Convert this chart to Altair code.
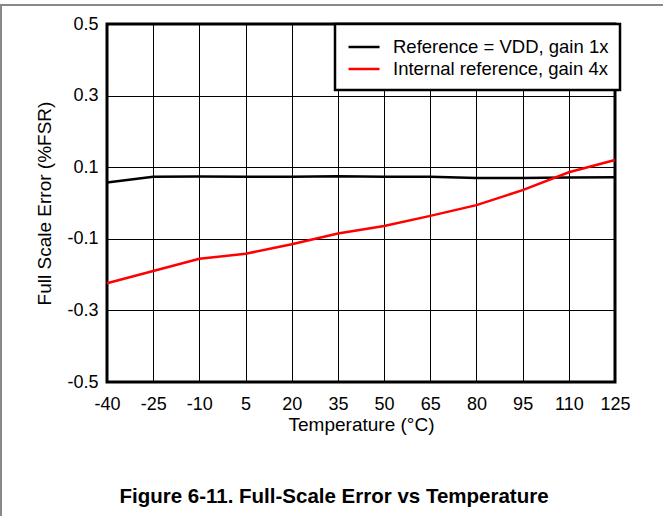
import altair as alt
import pandas as pd

temps = [-40, -25, -10, 5, 20, 35, 50, 65, 80, 95, 110, 125]
vdd_gain1 = [0.057, 0.073, 0.074, 0.073, 0.073, 0.075, 0.073, 0.073, 0.070, 0.070, 0.071, 0.072]
int_gain4 = [-0.224, -0.190, -0.156, -0.142, -0.115, -0.085, -0.064, -0.036, -0.006, 0.036, 0.086, 0.120]
series_names = ["Reference = VDD, gain 1x", "Internal reference, gain 4x"]
series_colors = ["#000000", "#ff0000"]
x_ticks = [-40, -25, -10, 5, 20, 35, 50, 65, 80, 95, 110, 125]
y_ticks = [-0.5, -0.3, -0.1, 0.1, 0.3, 0.5]
fig_title = "Figure 6-11. Full-Scale Error vs Temperature"

rows = []
for name, vals in zip(series_names, [vdd_gain1, int_gain4]):
    for t, v in zip(temps, vals):
        rows.append({"Temperature": t, "Error": v, "Series": name})
df = pd.DataFrame(rows)

FONT = "Liberation Sans"
FS = 18
W, H = 508, 358
PL, PT = 107, 24

lines = alt.Chart(df).mark_line(strokeWidth=2.5).encode(
    x=alt.X("Temperature:Q",
            scale=alt.Scale(domain=[-40, 125], nice=False, zero=False),
            axis=alt.Axis(values=x_ticks, title="Temperature (°C)", grid=True,
                          gridColor="#000000", gridOpacity=1, gridWidth=1,
                          ticks=False, domain=False, labelPadding=13,
                          labelFontSize=FS, titleFontSize=19, titleFontWeight="normal",
                          labelColor="#000000", titleColor="#000000", titlePadding=2,
                          labelFont=FONT, titleFont=FONT, labelFlush=False,
                          labelExpr="datum.value < 0 ? '-' + format(-datum.value, 'd') : format(datum.value, 'd')")),
    y=alt.Y("Error:Q",
            scale=alt.Scale(domain=[-0.5, 0.5], nice=False, zero=False),
            axis=alt.Axis(values=y_ticks, title="Full Scale Error (%FSR)", grid=True,
                          gridColor="#000000", gridOpacity=1, gridWidth=1,
                          ticks=False, domain=False, labelPadding=9,
                          labelFontSize=FS, titleFontSize=19, titleFontWeight="normal",
                          labelColor="#000000", titleColor="#000000", titlePadding=12,
                          labelFont=FONT, titleFont=FONT, labelFlush=False,
                          labelExpr="datum.value < 0 ? '-' + format(-datum.value, '.1f') : format(datum.value, '.1f')")),
    color=alt.Color("Series:N",
                    scale=alt.Scale(domain=series_names, range=series_colors),
                    sort=series_names,
                    legend=alt.Legend(title=None, orient="none", legendX=228, legendY=0,
                                      fillColor="#ffffff", strokeColor="#000000",
                                      padding=11, symbolType="M-0.9,0H2.05",
                                      symbolStrokeWidth=2.5, symbolFillColor="transparent",
                                      symbolSize=441, labelFontSize=18.5, labelFont=FONT,
                                      labelColor="#000000", rowPadding=0, labelOffset=23,
                                      labelLimit=400, offset=0)),
)

frame_df = pd.DataFrame({"k": [0]})
top_line = alt.Chart(frame_df).mark_rule(color="#888888", strokeWidth=2).encode(
    x=alt.value(-PL), x2=alt.value(663 - PL), y=alt.value(5 - PT))
left_line = alt.Chart(frame_df).mark_rule(color="#888888", strokeWidth=2).encode(
    x=alt.value(-PL + 1), y=alt.value(5 - PT), y2=alt.value(516 - PT))
title_text = alt.Chart(pd.DataFrame({"t": [fig_title]})).mark_text(
    font=FONT, fontSize=20.5, fontWeight="bold", color="#000000", baseline="middle", align="center"
).encode(text="t:N", x=alt.value(334 - PL), y=alt.value(497 - PT))

chart = alt.layer(lines, top_line, left_line, title_text).properties(
    width=W, height=H,
    autosize=alt.AutoSizeParams(type="none"),
    padding={"left": PL, "top": PT, "right": 663 - PL - W, "bottom": 516 - PT - H},
    background="#ffffff",
).configure_view(stroke="#000000", strokeWidth=3).configure_legend(strokeWidth=2.5)

chart.save("out.html", embed_options={"renderer": "svg", "actions": False})
